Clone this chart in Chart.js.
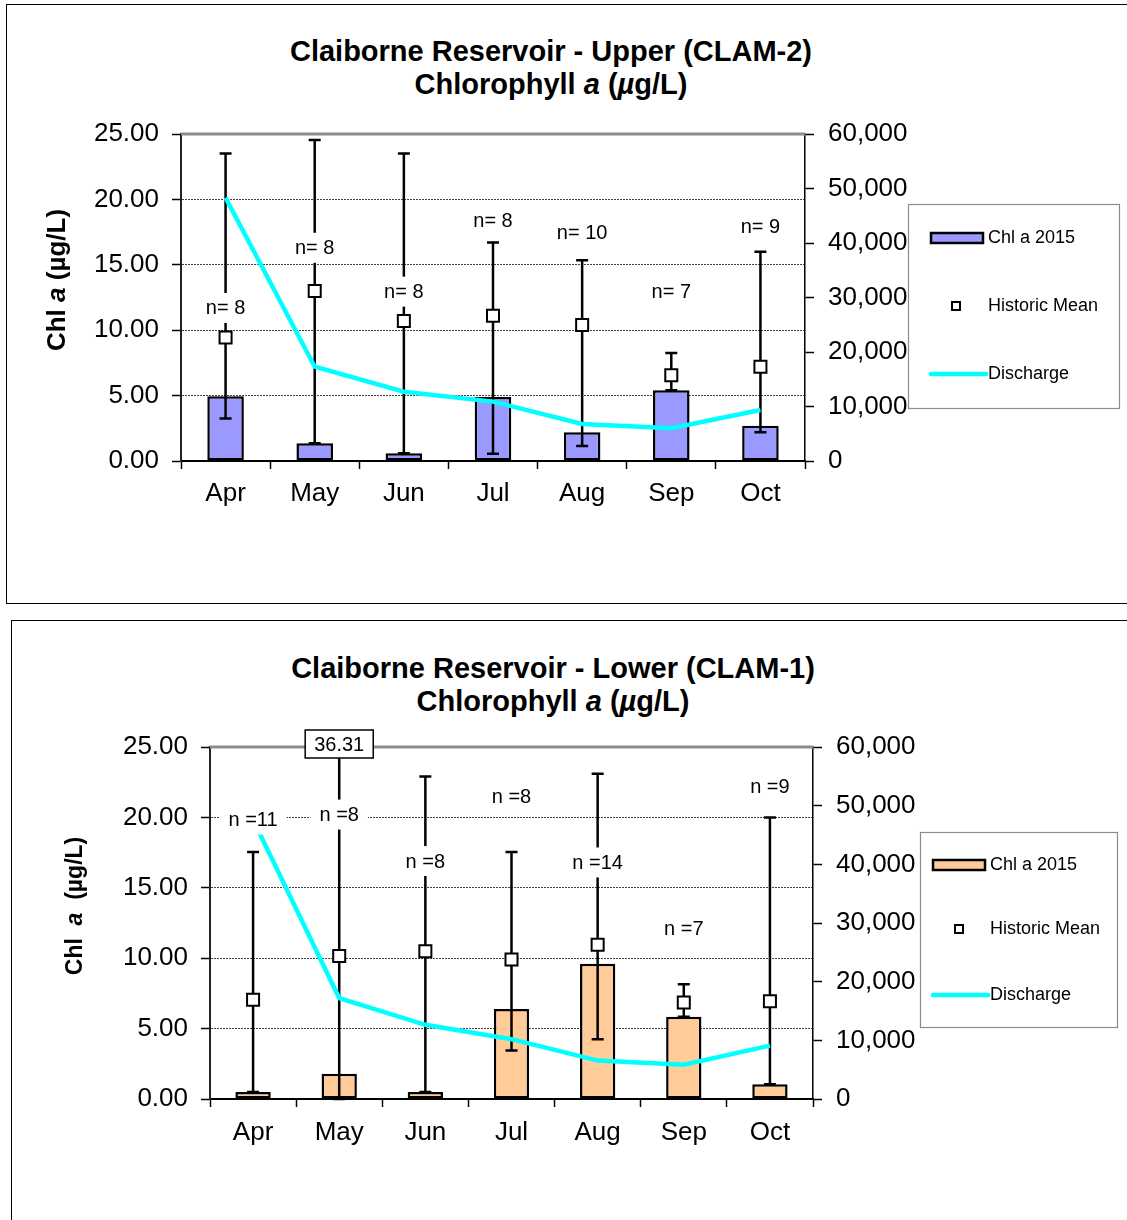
<!DOCTYPE html>
<html>
<head>
<meta charset="utf-8">
<script src="https://cdn.jsdelivr.net/npm/chart.js@4"></script>
<style>
  html, body { margin:0; padding:0; background:#fff; width:1127px; height:1220px; overflow:hidden; position:relative; }
  .box { position:absolute; border:1px solid #000; box-sizing:border-box; }
  .ttl { position:absolute; text-align:center; font-family:"Liberation Sans", Arial, sans-serif; font-weight:bold; font-size:29px; line-height:33px; color:#000; }
  canvas { position:absolute; left:0; }
</style>
</head>
<body>
<div class="box" style="left:6px;top:4px;width:1140px;height:600px;"></div>
<div class="box" style="left:11px;top:620px;width:1140px;height:620px;"></div>
<div class="ttl" style="left:0;top:35px;width:1102px;">Claiborne Reservoir - Upper (CLAM-2)<br>Chlorophyll <i>a</i> (<i>µ</i>g/L)</div>
<div class="ttl" style="left:0;top:652px;width:1106px;">Claiborne Reservoir - Lower (CLAM-1)<br>Chlorophyll <i>a</i> (<i>µ</i>g/L)</div>
<canvas id="c1" width="1127" height="610" style="top:0;"></canvas>
<canvas id="c2" width="1127" height="610" style="top:610px;"></canvas>
<script>
// ---------- data ----------
const months = ['Apr', 'May', 'Jun', 'Jul', 'Aug', 'Sep', 'Oct'];

// Upper (CLAM-2)
const chl2015Upper   = [4.95, 1.35, 0.6, 4.9, 2.2, 5.4, 2.7];
const histMeanUpper  = [9.45, 13.0, 10.7, 11.1, 10.4, 6.55, 7.2];
const histHighUpper  = [23.5, 24.55, 23.5, 16.7, 15.35, 8.25, 16.0];
const histLowUpper   = [3.25, 1.35, 0.6, 0.55, 1.15, 5.4, 2.2];
const nUpper         = [8, 8, 8, 8, 10, 7, 9];
const nLabelAtUpper  = [11.7, 16.3, 12.95, 18.4, 17.45, 12.95, 17.9];
const dischargeUpper = [48300, 17300, 12700, 10900, 6800, 6000, 9350];

// Lower (CLAM-1)
const chl2015Lower   = [0.5, 1.8, 0.5, 6.4, 9.6, 5.85, 1.05];
const histMeanLower  = [7.05, 10.15, 10.5, 9.9, 10.95, 6.85, 6.95];
const histHighLower  = [17.55, 36.31, 22.9, 17.55, 23.1, 8.15, 20.0];
const histLowLower   = [0.5, 0, 0.5, 3.45, 4.25, 5.85, 1.05];
const nLower         = [11, 8, 8, 8, 14, 7, 9];
const nLabelAtLower  = [19.85, 20.2, 16.9, 21.5, 16.8, 12.1, 22.2];
const dischargeLower = [47600, 17200, 12650, 10200, 6550, 5850, 9100];

const chlTicks = [0, 5, 10, 15, 20, 25];
const dischargeTicks = [0, 10000, 20000, 30000, 40000, 50000, 60000];

// ---------- drawing ----------
const FAM = '"Liberation Sans", Arial, Helvetica, sans-serif';
Chart.defaults.font.family = FAM;
Chart.defaults.color = '#000';

function buildChart(id, d, L) {
  const errorBars = {
    id: 'errorBars',
    afterDatasetDraw(chart, args) {
      if (args.index !== 0) return;
      const c = chart.ctx, xs = chart.scales.x, ys = chart.scales.y, a = chart.chartArea;
      c.save();
      c.strokeStyle = '#000'; c.lineWidth = 2.5; c.lineCap = 'butt';
      d.high.forEach((hv, i) => {
        const x = xs.getPixelForValue(i);
        const clipped = hv > ys.max;
        const yh = clipped ? a.top : ys.getPixelForValue(hv);
        const yl = ys.getPixelForValue(d.low[i]);
        c.beginPath(); c.moveTo(x, yh); c.lineTo(x, yl); c.stroke();
        c.beginPath();
        if (!clipped) { c.moveTo(x - 6, yh); c.lineTo(x + 6, yh); }
        c.moveTo(x - 6, yl); c.lineTo(x + 6, yl);
        c.stroke();
      });
      c.restore();
    }
  };
  const decorations = {
    id: 'decorations',
    beforeDatasetsDraw(chart) {
      const c = chart.ctx, a = chart.chartArea;
      c.save();
      c.strokeStyle = '#8c8c8c'; c.lineWidth = 3;
      c.beginPath(); c.moveTo(a.left, a.top); c.lineTo(a.right, a.top); c.stroke();
      c.restore();
    },
    afterDatasetsDraw(chart) {
      const c = chart.ctx, xs = chart.scales.x, ys = chart.scales.y, a = chart.chartArea;
      c.save();
      c.font = '20px ' + FAM;
      c.textAlign = 'center'; c.textBaseline = 'middle';
      d.n.forEach((n, i) => {
        const txt = d.fmt(n);
        const x = xs.getPixelForValue(i), y = ys.getPixelForValue(d.nAt[i]);
        const w = c.measureText(txt).width + 18;
        c.fillStyle = '#fff'; c.fillRect(x - w / 2, y - 15, w, 30);
        c.fillStyle = '#000'; c.fillText(txt, x, y + 1);
      });
      // off-scale value boxes
      d.high.forEach((hv, i) => {
        if (hv <= ys.max) return;
        const txt = hv.toFixed(2);
        const x = xs.getPixelForValue(i), y = a.top - 3;
        const w = c.measureText(txt).width + 18;
        c.fillStyle = '#fff'; c.fillRect(x - w / 2, y - 14, w, 28);
        c.strokeStyle = '#000'; c.lineWidth = 1.5; c.strokeRect(x - w / 2, y - 14, w, 28);
        c.fillStyle = '#000'; c.fillText(txt, x, y + 1);
      });
      c.restore();
    },
    afterDraw(chart) {
      const c = chart.ctx;
      // y-axis title (rotated, mixed italic)
      c.save();
      c.translate(L.ytX, L.ytY);
      c.rotate(-Math.PI / 2);
      c.textBaseline = 'middle'; c.textAlign = 'left'; c.fillStyle = '#000';
      const segs = L.ytSegs;
      let total = 0;
      segs.forEach(s => { c.font = s.f + ' ' + FAM; total += c.measureText(s.t).width; });
      let px = -total / 2;
      segs.forEach(s => { c.font = s.f + ' ' + FAM; c.fillText(s.t, px, 0); px += c.measureText(s.t).width; });
      c.restore();
      // legend
      const g = L.leg;
      c.save();
      c.fillStyle = '#fff'; c.fillRect(g.x, g.y, g.w, g.h);
      c.strokeStyle = '#8c8c8c'; c.lineWidth = 1.2; c.strokeRect(g.x + 0.5, g.y + 0.5, g.w, g.h);
      c.font = '18px ' + FAM; c.textBaseline = 'middle'; c.textAlign = 'left'; c.fillStyle = '#000';
      // bar swatch
      c.fillStyle = d.color; c.fillRect(g.sx, g.r1 - 5, 52, 10);
      c.strokeStyle = '#000'; c.lineWidth = 2.5; c.strokeRect(g.sx, g.r1 - 5, 52, 10);
      c.fillStyle = '#000'; c.fillText('Chl a 2015', g.tx, g.r1);
      // marker
      c.fillStyle = '#fff'; c.fillRect(g.mx - 4, g.r2 - 4, 8, 8);
      c.lineWidth = 2; c.strokeRect(g.mx - 4, g.r2 - 4, 8, 8);
      c.fillStyle = '#000'; c.fillText('Historic Mean', g.tx, g.r2);
      // line
      c.strokeStyle = '#00FFFF'; c.lineWidth = 4.5; c.lineCap = 'round';
      c.beginPath(); c.moveTo(g.sx, g.r3); c.lineTo(g.sx + 55, g.r3); c.stroke();
      c.fillStyle = '#000'; c.fillText('Discharge', g.tx, g.r3);
      c.restore();
    }
  };

  return new Chart(document.getElementById(id), {
    type: 'bar',
    data: {
      labels: months,
      datasets: [
        { type: 'bar', label: 'Chl a 2015', data: d.chl, backgroundColor: d.color, borderColor: '#000',
          borderWidth: 2.5, borderSkipped: false, categoryPercentage: 1, barPercentage: 0.41, yAxisID: 'y', order: 3 },
        { type: 'line', label: 'Historic Mean', data: d.mean, showLine: false, pointStyle: 'rect', pointRadius: 8.5,
          pointBackgroundColor: '#fff', pointBorderColor: '#000', pointBorderWidth: 2, yAxisID: 'y', order: 2 },
        { type: 'line', label: 'Discharge', data: d.discharge, borderColor: '#00FFFF', borderWidth: 4.5,
          pointRadius: 0, tension: 0, fill: false, yAxisID: 'y2', order: 1 }
      ]
    },
    options: {
      responsive: false, animation: false, devicePixelRatio: 1, events: [],
      layout: { padding: { top: L.top, left: 0, right: 0, bottom: 0 } },
      plugins: { legend: { display: false }, title: { display: false }, tooltip: { enabled: false } },
      scales: {
        x: {
          offset: true,
          ticks: { font: { size: 26 }, color: '#000', padding: L.xPad },
          grid: { drawOnChartArea: false, offset: true, tickColor: '#000', tickLength: 8, tickWidth: 1.5 },
          border: { color: '#000', width: 2 },
          afterFit: s => { s.height = L.xH; }
        },
        y: {
          position: 'left', min: 0, max: 25,
          afterBuildTicks: s => { s.ticks = chlTicks.map(v => ({ value: v })); },
          ticks: { font: { size: 26 }, color: '#000', padding: 13, callback: v => Number(v).toFixed(2) },
          grid: { color: c => (c.tick && (c.tick.value === 0 || c.tick.value === 25)) ? 'rgba(0,0,0,0)' : '#444',
                  lineWidth: 1, tickColor: '#000', tickLength: 9, tickWidth: 1.5 },
          border: { color: '#222', width: 2, dash: [2, 1] },
          afterFit: s => { s.width = L.left; }
        },
        y2: {
          position: 'right', min: 0, max: 60000,
          afterBuildTicks: s => { s.ticks = dischargeTicks.map(v => ({ value: v })); },
          ticks: { font: { size: 26 }, color: '#000', padding: 14, callback: v => Number(v).toLocaleString('en-US') },
          grid: { drawOnChartArea: false, tickColor: '#000', tickLength: 9, tickWidth: 1.5 },
          border: { color: '#000', width: 1.5 },
          afterFit: s => { s.width = L.rightW; }
        }
      }
    },
    plugins: [errorBars, decorations]
  });
}

buildChart('c1', {
  chl: chl2015Upper, mean: histMeanUpper, high: histHighUpper, low: histLowUpper,
  n: nUpper, nAt: nLabelAtUpper, discharge: dischargeUpper, color: '#9999FF',
  fmt: n => 'n= ' + n
}, {
  top: 134, left: 181, rightW: 1127 - 805, xH: 610 - 461, xPad: 9,
  ytX: 58, ytY: 280,
  ytSegs: [{ t: 'Chl ', f: 'bold 26px' }, { t: 'a', f: 'italic bold 26px' }, { t: ' (µg/L)', f: 'bold 26px' }],
  leg: { x: 908, y: 204, w: 211, h: 204, sx: 931, tx: 988, mx: 956, r1: 238, r2: 306, r3: 374 }
});

buildChart('c2', {
  chl: chl2015Lower, mean: histMeanLower, high: histHighLower, low: histLowLower,
  n: nLower, nAt: nLabelAtLower, discharge: dischargeLower, color: '#FFCC99',
  fmt: n => 'n =' + n
}, {
  top: 137, left: 210, rightW: 1127 - 813, xH: 610 - 489, xPad: 10,
  ytX: 76, ytY: 296,
  ytSegs: [{ t: 'Chl  ', f: 'bold 23px' }, { t: 'a', f: 'italic bold 23px' }, { t: '  (µg/L)', f: 'bold 23px' }],
  leg: { x: 920, y: 222, w: 197, h: 195, sx: 933, tx: 990, mx: 959, r1: 255, r2: 319, r3: 385 }
});
</script>
</body>
</html>
